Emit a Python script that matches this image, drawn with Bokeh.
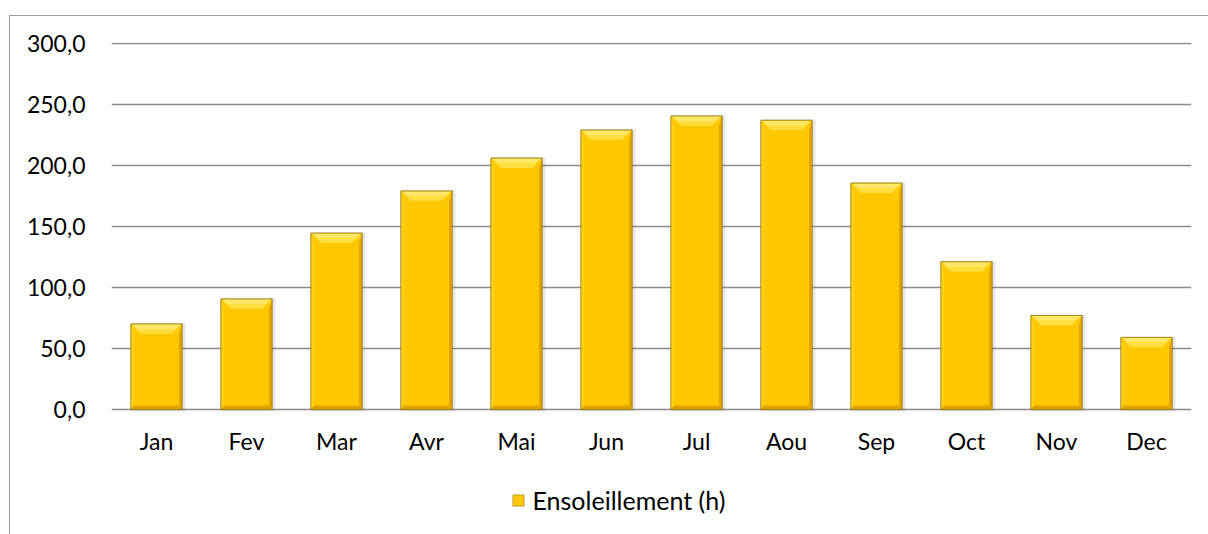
from bokeh.plotting import figure
from bokeh.models import FixedTicker, Range1d, Legend, LegendItem
from bokeh.embed import file_html
from bokeh.resources import INLINE

months = ["Jan", "Fev", "Mar", "Avr", "Mai", "Jun", "Jul", "Aou", "Sep", "Oct", "Nov", "Dec"]
sunshine = [70.0, 90.5, 144.5, 179.0, 206.0, 229.0, 240.5, 237.0, 185.5, 121.0, 77.0, 59.0]
y_ticks = [0, 50, 100, 150, 200, 250, 300]
y_tick_labels = ["0,0", "50,0", "100,0", "150,0", "200,0", "250,0", "300,0"]
series_name = "Ensoleillement (h)"

FONT = "Lato"
FS = "23px"

W, H = 1199, 519
MB_TOP, MB_BOTTOM = 26, 5
frame_h = H - 1.5 - MB_TOP - MB_BOTTOM
px_per_unit = 1.216
y_end = 300.8
y_start = y_end - frame_h / px_per_unit

p = figure(width=W, height=H, output_backend="svg", toolbar_location=None,
           x_range=Range1d(0, 12), y_range=Range1d(y_start, y_end),
           min_border_left=101, min_border_right=18, min_border_top=MB_TOP, min_border_bottom=MB_BOTTOM)
p.margin = (15, 0, 0, 9)
p.styles = {"border-top": "1.5px solid #9a9a9a", "border-left": "1.5px solid #9a9a9a"}
p.outline_line_color = None
p.background_fill_color = "white"
p.border_fill_color = "white"

xs = [i + 0.5 for i in range(len(months))]
hw = 0.284     # half bar width (data units)
bw = 0.568
inset = 0.11   # top bevel horizontal inset
bh = 8.0       # top bevel height (data units)
sw = 0.035     # side strip width
bb = 3.3       # bottom strip height

# soft shadow
p.vbar(x=[x + 0.02 for x in xs], top=[v + 0.8 for v in sunshine], bottom=-1.8, width=bw + 0.035,
       fill_color="#808080", fill_alpha=0.2, line_color=None)
# main bars
main = p.vbar(x=xs, top=sunshine, bottom=0, width=bw, fill_color="#FFC800",
              line_color="#8c7000", line_alpha=0.55, line_width=1)
# left strip
p.patches(xs=[[x - hw, x - hw + sw, x - hw + sw, x - hw] for x in xs],
          ys=[[v, v - bh, bb, 0] for v in sunshine],
          fill_color="#FFD21A", line_color=None)
# right strip
p.patches(xs=[[x + hw, x + hw - sw, x + hw - sw, x + hw] for x in xs],
          ys=[[v, v - bh, bb, 0] for v in sunshine],
          fill_color="#E3A600", line_color=None)
# bottom strip
p.patches(xs=[[x - hw, x + hw, x + hw - sw, x - hw + sw] for x in xs],
          ys=[[0, 0, bb, bb] for v in sunshine],
          fill_color="#E0A200", line_color=None)
# top bevel
p.patches(xs=[[x - hw, x + hw, x + hw - inset, x - hw + inset] for x in xs],
          ys=[[v, v, v - bh, v - bh] for v in sunshine],
          fill_color="#FFDF40", line_color=None)
p.patches(xs=[[x - hw + 0.02, x + hw - 0.02, x + hw - 0.02 - inset * 0.5, x - hw + 0.02 + inset * 0.5] for x in xs],
          ys=[[v - 0.5, v - 0.5, v - bh * 0.5, v - bh * 0.5] for v in sunshine],
          fill_color="#FFE867", line_color=None)
# outline on top
p.vbar(x=xs, top=sunshine, bottom=0, width=bw, fill_color=None,
       line_color="#8c7000", line_alpha=0.6, line_width=1)

# axes
p.xaxis.fixed_location = 0
p.xaxis.ticker = FixedTicker(ticks=xs)
p.xaxis.major_label_overrides = {x: m for x, m in zip(xs, months)}
p.yaxis.ticker = FixedTicker(ticks=y_ticks)
p.yaxis.major_label_overrides = {t: l for t, l in zip(y_ticks, y_tick_labels)}
for ax in (p.xaxis[0], p.yaxis[0]):
    ax.axis_line_color = None
    ax.major_tick_line_color = None
    ax.minor_tick_line_color = None
    ax.major_label_text_font = FONT
    ax.major_label_text_font_size = FS
    ax.major_label_text_color = "#000000"
p.yaxis.major_label_standoff = 20
p.xaxis.major_label_standoff = 12

p.xgrid.grid_line_color = None
p.ygrid.ticker = FixedTicker(ticks=y_ticks)
p.ygrid.grid_line_color = "#8a8a8a"
p.ygrid.grid_line_width = 1.5
p.ygrid.level = "underlay"

legend = Legend(items=[LegendItem(label=series_name, renderers=[main])],
                location=(399.5, 15), orientation="horizontal",
                glyph_width=14, glyph_height=14, label_standoff=8,
                padding=0, margin=0, spacing=0,
                border_line_color=None, background_fill_alpha=0,
                label_text_font=FONT, label_text_font_size="25px", label_text_color="#000000")
p.add_layout(legend, "center")

open("out.html", "w").write(file_html(p, INLINE))
